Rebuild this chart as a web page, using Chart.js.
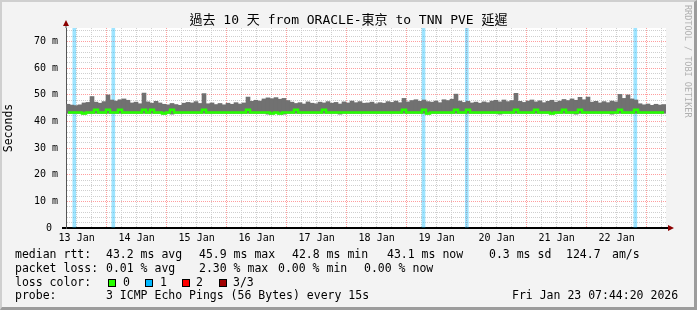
<!DOCTYPE html>
<html>
<head>
<meta charset="utf-8">
<script src="https://cdn.jsdelivr.net/npm/chart.js@4.4.1/dist/chart.umd.min.js"></script>
<style>
  html, body { margin: 0; padding: 0; }
  body { width: 697px; height: 310px; position: relative; overflow: hidden; background: #f3f3f3; font-family: "DejaVu Sans Mono", monospace; }
  #frame { position: absolute; left: 0; top: 0; width: 697px; height: 310px; box-sizing: border-box;
           border-top: 2px solid #cfcfcf; border-left: 2px solid #cfcfcf; border-right: 3px solid #9c9c9c; border-bottom: 3px solid #9c9c9c; }
  #wrap { position: absolute; left: 0; top: 0; width: 697px; height: 310px; }
  .t { position: absolute; font-size: 11.5px; line-height: 14px; white-space: pre; color: #000; }
  .box { position: absolute; top: 279px; width: 6px; height: 6px; border: 1px solid #000; }
  #credit { position: absolute; left: 683px; top: 5px; writing-mode: vertical-rl; font-size: 8.5px; color: #b0b0b0; white-space: pre; }
</style>
</head>
<body>
<div id="frame"></div>
<div id="wrap"><canvas id="latencyChart"></canvas></div>
<div id="credit">RRDTOOL / TOBI OETIKER</div>

<!-- legend block -->
<div class="t" style="top:247px;left:15px">median rtt:</div>
<div class="t" style="top:247px;left:106px">43.2 ms avg</div>
<div class="t" style="top:247px;left:199px">45.9 ms max</div>
<div class="t" style="top:247px;left:292px">42.8 ms min</div>
<div class="t" style="top:247px;left:387px">43.1 ms now</div>
<div class="t" style="top:247px;left:489px">0.3 ms sd</div>
<div class="t" style="top:247px;left:566px">124.7</div>
<div class="t" style="top:247px;left:612px">am/s</div>

<div class="t" style="top:261px;left:15px">packet loss:</div>
<div class="t" style="top:261px;left:106px">0.01 % avg</div>
<div class="t" style="top:261px;left:199px">2.30 % max</div>
<div class="t" style="top:261px;left:278px">0.00 % min</div>
<div class="t" style="top:261px;left:364px">0.00 % now</div>

<div class="t" style="top:275px;left:15px">loss color:</div>
<div class="box" style="left:108px;background:#26ff00"></div>
<div class="t" style="top:275px;left:123px">0</div>
<div class="box" style="left:145px;background:#00b8ff"></div>
<div class="t" style="top:275px;left:160px">1</div>
<div class="box" style="left:182px;background:#ff0000"></div>
<div class="t" style="top:275px;left:196px">2</div>
<div class="box" style="left:219px;background:#a00000"></div>
<div class="t" style="top:275px;left:233px">3/3</div>

<div class="t" style="top:288px;left:15px">probe:</div>
<div class="t" style="top:288px;left:106px">3 ICMP Echo Pings (56 Bytes) every 15s</div>
<div class="t" style="top:288px;left:512px">Fri Jan 23 07:44:20 2026</div>

<script>
// time axis in hours since Jan 13 00:00
const startHour = 7.739;   // Jan 13 07:44:20
const endHour = 247.739;   // Jan 23 07:44:20
const binHours = 1.6;

// smoke top (max rtt, ms) per bin
const smokeMax = [
  46.4, 46.1, 45.9, 46.2, 46.9, 47.1, 49.3, 47.2, 46.8, 47.4,
  49.9, 48.0, 47.6, 48.1, 48.4, 47.9, 46.9, 47.2, 46.6, 50.6,
  47.3, 46.8, 47.5, 46.9, 46.4, 46.2, 46.7, 46.3, 46.0, 46.8,
  47.1, 46.9, 47.4, 46.7, 50.4, 46.6, 46.9, 46.3, 46.7, 46.2,
  46.8, 46.4, 47.0, 46.5, 46.9, 49.1, 47.5, 47.9, 47.6, 48.4,
  48.8, 48.5, 48.9, 48.3, 48.6, 47.8, 47.2, 46.7, 47.0, 46.5,
  47.3, 46.8, 46.6, 47.2, 46.9, 47.4, 46.8, 47.1, 46.5, 47.3,
  46.9, 47.6, 47.0, 47.4, 46.8, 46.9, 47.2, 46.6, 47.0, 46.8,
  47.4, 47.1, 47.6, 47.0, 48.6, 47.3, 47.8, 48.1, 47.5, 48.0,
  47.4, 47.2, 47.6, 47.0, 48.1, 47.8, 48.3, 50.2, 47.6, 47.1,
  47.5, 46.9, 47.2, 46.8, 47.3, 47.0, 47.6, 47.9, 47.3, 48.0,
  47.4, 47.8, 50.5, 47.5, 47.1, 47.6, 48.0, 47.3, 47.7, 47.0,
  47.5, 47.9, 47.2, 47.6, 48.2, 47.8, 48.4, 47.9, 49.0, 48.1,
  49.1, 47.2, 47.5, 46.9, 47.4, 47.0, 47.6, 47.3, 50.1, 48.6,
  49.9, 48.4, 48.0, 46.6, 46.2, 46.5, 46.0, 46.4, 46.1, 46.3
];

// smoke bottom (min rtt, ms) per bin
const smokeMin = [
  43.0, 43.0, 43.0, 43.0, 42.7, 43.0, 43.0, 43.0, 43.0, 43.0,
  43.0, 43.0, 43.0, 43.0, 43.0, 43.0, 43.0, 43.0, 43.0, 43.0,
  43.0, 43.0, 43.0, 43.0, 42.7, 43.0, 42.7, 43.0, 43.0, 43.0,
  43.0, 43.0, 43.0, 43.0, 43.0, 43.0, 43.0, 43.0, 43.0, 43.0,
  43.0, 43.0, 43.0, 43.0, 43.0, 43.0, 43.0, 43.0, 43.0, 43.0,
  42.7, 42.7, 43.0, 42.7, 42.7, 43.0, 43.0, 43.0, 43.0, 43.0,
  43.0, 43.0, 43.0, 43.0, 43.0, 43.0, 43.0, 43.0, 42.7, 43.0,
  43.0, 43.0, 43.0, 43.0, 43.0, 43.0, 43.0, 43.0, 43.0, 43.0,
  43.0, 43.0, 43.0, 43.0, 43.0, 43.0, 43.0, 43.0, 43.0, 43.0,
  42.7, 43.0, 43.0, 43.0, 43.0, 43.0, 43.0, 43.0, 43.0, 43.0,
  43.0, 43.0, 43.0, 43.0, 43.0, 43.0, 43.0, 43.0, 42.7, 43.0,
  43.0, 43.0, 43.0, 43.0, 43.0, 43.0, 43.0, 43.0, 43.0, 43.0,
  43.0, 42.7, 43.0, 43.0, 43.0, 43.0, 43.0, 42.7, 43.0, 43.0,
  43.0, 43.0, 43.0, 43.0, 43.0, 43.0, 42.7, 43.0, 43.0, 43.0,
  43.0, 43.0, 43.0, 43.0, 43.0, 43.0, 43.0, 43.0, 43.0, 43.0
];

// median rtt (ms) per bin
const medianRtt = [
  43.3, 43.3, 43.3, 43.3, 42.9, 43.3, 43.3, 44.3, 43.3, 43.3,
  44.3, 43.3, 43.3, 44.3, 43.3, 43.3, 43.3, 43.3, 43.3, 44.3,
  43.3, 44.3, 43.3, 43.3, 42.9, 43.3, 44.3, 43.3, 43.3, 43.3,
  43.3, 43.3, 43.3, 43.3, 44.3, 43.3, 43.3, 43.3, 43.3, 43.3,
  43.3, 43.3, 43.3, 43.3, 43.3, 44.3, 43.3, 43.3, 43.3, 43.3,
  43.3, 42.9, 43.3, 42.9, 43.3, 43.3, 43.3, 44.3, 43.3, 43.3,
  43.3, 43.3, 43.3, 43.3, 44.3, 43.3, 43.3, 43.3, 43.3, 43.3,
  43.3, 43.3, 43.3, 43.3, 43.3, 43.3, 43.3, 43.3, 43.3, 43.3,
  43.3, 43.3, 43.3, 43.3, 44.3, 43.3, 43.3, 43.3, 43.3, 44.3,
  42.9, 43.3, 43.3, 43.3, 43.3, 43.3, 43.3, 44.3, 43.3, 43.3,
  44.3, 43.3, 43.3, 43.3, 43.3, 43.3, 43.3, 43.3, 43.3, 43.3,
  43.3, 43.3, 44.3, 43.3, 43.3, 43.3, 43.3, 44.3, 43.3, 43.3,
  43.3, 42.9, 43.3, 43.3, 44.3, 43.3, 43.3, 43.3, 44.3, 43.3,
  43.3, 43.3, 43.3, 43.3, 43.3, 43.3, 43.3, 43.3, 44.3, 43.3,
  43.3, 43.3, 44.3, 43.3, 43.3, 43.3, 43.3, 43.3, 43.3, 43.3
];

// times with 1/3 packets lost
const lossHours = [11.06, 26.66, 150.74, 168.06, 235.46];
const lossCount = [1, 1, 1, 1, 1];

// axis ticks
const gridHours = [12, 18, 24, 30, 36, 42, 48, 54, 60, 66, 72, 78, 84, 90, 96, 102, 108, 114, 120, 126,
                   132, 138, 144, 150, 156, 162, 168, 174, 180, 186, 192, 198, 204, 210, 216, 222, 228, 234, 240, 246];
const dayLabelHours = [12, 36, 60, 84, 108, 132, 156, 180, 204, 228];
const dayLabels = ['13 Jan', '14 Jan', '15 Jan', '16 Jan', '17 Jan', '18 Jan', '19 Jan', '20 Jan', '21 Jan', '22 Jan'];
const yGridValues = [0, 2, 4, 6, 8, 10, 12, 14, 16, 18, 20, 22, 24, 26, 28, 30, 32, 34, 36, 38,
                     40, 42, 44, 46, 48, 50, 52, 54, 56, 58, 60, 62, 64, 66, 68, 70, 72, 74];
const yLabelValues = [0, 10, 20, 30, 40, 50, 60, 70];
const yLabels = ['0 ', '10 m', '20 m', '30 m', '40 m', '50 m', '60 m', '70 m'];
const yMax = 75;

const mono = "'DejaVu Sans Mono', 'Noto Sans CJK TC', monospace";
const majorGrid = 'rgba(255, 0, 0, 0.38)';
const minorGrid = '#cfcfcf';

const binX = smokeMax.map((v, i) => startHour + binHours * (i + 0.5));

// white plot area
const plotBackground = {
    id: 'plotBackground',
    beforeDraw(chart) {
        const { ctx, chartArea: a } = chart;
        ctx.save();
        ctx.fillStyle = '#ffffff';
        ctx.fillRect(a.left, a.top, a.right - a.left, a.bottom - a.top);
        ctx.restore();
    }
};

// rrd style axis arrows
const axisArrows = {
    id: 'axisArrows',
    afterDraw(chart) {
        const { ctx, chartArea: a } = chart;
        ctx.save();
        ctx.fillStyle = '#000';
        ctx.fillRect(a.left - 4, a.bottom - 1, 4, 2);
        ctx.fillRect(a.right, a.bottom - 1, 3, 2);
        ctx.fillStyle = '#555';
        ctx.fillRect(a.left - 0.5, a.top - 3, 1, 3);
        ctx.fillStyle = '#8b0000';
        ctx.beginPath();
        ctx.moveTo(a.left - 3, a.top - 2);
        ctx.lineTo(a.left + 3, a.top - 2);
        ctx.lineTo(a.left, a.top - 8);
        ctx.closePath();
        ctx.fill();
        ctx.beginPath();
        ctx.moveTo(a.right + 2, a.bottom - 3);
        ctx.lineTo(a.right + 2, a.bottom + 3);
        ctx.lineTo(a.right + 8, a.bottom);
        ctx.closePath();
        ctx.fill();
        ctx.restore();
    }
};

new Chart(document.getElementById('latencyChart'), {
    type: 'bar',
    data: {
        datasets: [
            {
                type: 'line',
                label: 'median rtt',
                data: medianRtt.map((v, i) => ({ x: binX[i], y: v })),
                borderColor: '#26ff00',
                borderWidth: 2.5,
                pointRadius: 0,
                stepped: 'middle',
                order: 0,
            },
            {
                label: 'smoke',
                data: smokeMax.map((v, i) => ({ x: binX[i], y: [smokeMin[i], v] })),
                backgroundColor: '#717171',
                barThickness: 4,
                grouped: false,
                order: 1,
            },
            {
                label: 'loss 1',
                data: lossHours.map((h, i) => ({ x: h, y: [0, lossCount[i] ? yMax : 0] })),
                backgroundColor: 'rgba(0, 184, 255, 0.38)',
                barThickness: 3,
                grouped: false,
                order: 2,
            },
        ],
    },
    options: {
        responsive: true,
        maintainAspectRatio: false,
        animation: false,
        layout: { padding: 0 },
        plugins: {
            legend: { display: false },
            tooltip: { enabled: false },
            title: {
                display: true,
                text: '過去 10 天 from ORACLE-東京 to TNN PVE 延遲',
                color: '#000',
                font: { family: mono, size: 13, weight: 'normal', lineHeight: 1 },
                padding: { top: 14, bottom: 1 },
            },
        },
        scales: {
            x: {
                type: 'linear',
                min: startHour,
                max: endHour,
                offset: false,
                afterBuildTicks: (axis) => { axis.ticks = gridHours.map((h) => ({ value: h })); },
                afterFit: (scale) => { scale.height = 82; },
                grid: {
                    offset: false,
                    drawTicks: false,
                    color: (ctx) => (ctx.tick && ctx.tick.value % 24 === 0 ? majorGrid : minorGrid),
                },
                border: { display: true, color: '#000', width: 2, dash: [1, 1] },
                ticks: {
                    autoSkip: false,
                    maxRotation: 0,
                    padding: 4,
                    color: '#000',
                    font: { family: mono, size: 10 },
                    callback: (value) => {
                        const k = dayLabelHours.indexOf(value);
                        return k >= 0 ? dayLabels[k] : '';
                    },
                },
            },
            y: {
                min: 0,
                max: yMax,
                afterBuildTicks: (axis) => { axis.ticks = yGridValues.map((v) => ({ value: v })); },
                afterFit: (scale) => { scale.width = 66; },
                grid: {
                    drawTicks: false,
                    color: (ctx) => (ctx.tick && ctx.tick.value % 10 === 0 ? majorGrid : minorGrid),
                },
                border: { display: true, color: '#555', width: 1, dash: [1, 1] },
                ticks: {
                    autoSkip: false,
                    padding: 8,
                    color: '#000',
                    font: { family: mono, size: 10 },
                    callback: (value) => {
                        const k = yLabelValues.indexOf(value);
                        return k >= 0 ? yLabels[k] : '';
                    },
                },
                title: {
                    display: true,
                    text: 'Seconds',
                    color: '#000',
                    font: { family: mono, size: 11.5 },
                    padding: { top: 2, bottom: 0 },
                },
            },
            // empty right margin (keeps the title centred on the whole image)
            yRight: {
                position: 'right',
                min: 0,
                max: yMax,
                afterFit: (scale) => { scale.width = 31; },
                grid: { display: false },
                border: { display: false },
                ticks: { display: false },
            },
        },
    },
    plugins: [plotBackground, axisArrows],
});
</script>
</body>
</html>
